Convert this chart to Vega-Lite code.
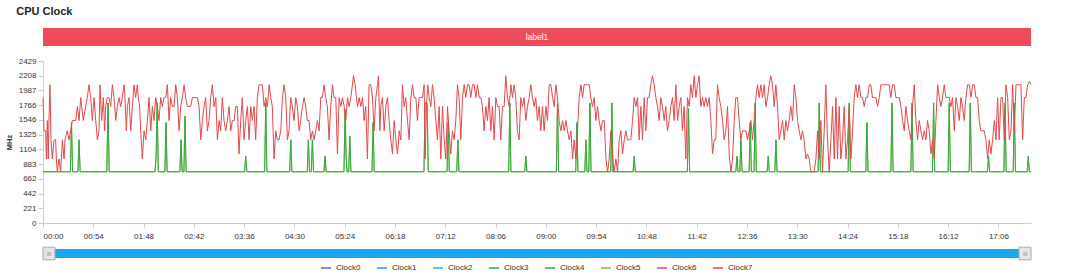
{
  "$schema": "https://vega.github.io/schema/vega-lite/v6.json",
  "background": "white",
  "padding": {"left": 5, "top": 6, "right": 5, "bottom": 2},
  "title": {"text": "CPU Clock", "anchor": "start", "fontSize": 11, "fontWeight": "bold", "font": "Liberation Sans", "color": "#222", "dx": 11, "offset": 11},
  "config": {
    "view": {"stroke": null},
    "font": "Liberation Sans",
    "axis": {"labelFont": "Liberation Sans", "labelFontSize": 8, "labelColor": "#333", "domainColor": "#c9cbd3", "tickColor": "#c9cbd3", "grid": false}
  },
  "resolve": {"scale": {"color": "shared"}, "legend": {"color": "shared"}},
  "datasets": {
    "red": [
      {"t":0,"v":1881},{"t":1.1,"v":1382},{"t":2.9,"v":1382},{"t":3.6,"v":960},{"t":4.7,"v":1536},{"t":5.7,"v":960},{"t":6.4,"v":1536},{"t":7.5,"v":2073},{"t":8.6,"v":1248},{"t":10,"v":960},{"t":11.8,"v":1248},{"t":13.6,"v":1248},{"t":14.3,"v":960},{"t":15.4,"v":768},{"t":17.2,"v":960},{"t":19,"v":768},{"t":20.8,"v":1248},{"t":22.6,"v":960},{"t":23.6,"v":1248},{"t":26.1,"v":1382},{"t":27.9,"v":1248},{"t":29.7,"v":1382},{"t":31.5,"v":1536},{"t":33.3,"v":1536},{"t":35.1,"v":1536},{"t":36.9,"v":1747},{"t":38.7,"v":1536},{"t":40.5,"v":1881},{"t":41.5,"v":1747},{"t":43.3,"v":1536},{"t":45.8,"v":1747},{"t":47.6,"v":1881},{"t":49.4,"v":2073},{"t":51.2,"v":1881},{"t":53,"v":1536},{"t":54.8,"v":1881},{"t":56.6,"v":1536},{"t":58.4,"v":1248},{"t":60.2,"v":1382},{"t":61.2,"v":2073},{"t":63,"v":1536},{"t":64.8,"v":1881},{"t":66.2,"v":1382},{"t":67.3,"v":1747},{"t":69.1,"v":1881},{"t":70.9,"v":1881},{"t":72.7,"v":1747},{"t":74.5,"v":2073},{"t":76.3,"v":1881},{"t":78.1,"v":1536},{"t":79.8,"v":1747},{"t":81.6,"v":1881},{"t":83.4,"v":1747},{"t":85.2,"v":1881},{"t":87,"v":2073},{"t":88.1,"v":1881},{"t":89.5,"v":1382},{"t":90.6,"v":1747},{"t":92.4,"v":1881},{"t":94.2,"v":1382},{"t":96,"v":1747},{"t":97.8,"v":2073},{"t":99.5,"v":1881},{"t":101.3,"v":2073},{"t":102.4,"v":1881},{"t":103.8,"v":1747},{"t":104.9,"v":1382},{"t":106.7,"v":960},{"t":108.5,"v":1382},{"t":110.3,"v":1248},{"t":112.1,"v":1536},{"t":113.9,"v":1881},{"t":115.7,"v":1382},{"t":117.4,"v":1747},{"t":119.2,"v":1536},{"t":121,"v":1881},{"t":122.8,"v":1747},{"t":124.6,"v":1536},{"t":126.4,"v":1881},{"t":128.2,"v":1747},{"t":130,"v":1881},{"t":131.8,"v":1881},{"t":133.6,"v":2073},{"t":135.3,"v":1536},{"t":137.1,"v":1881},{"t":138.9,"v":1747},{"t":140.7,"v":1747},{"t":142.5,"v":2073},{"t":144.3,"v":1881},{"t":146.1,"v":1382},{"t":147.9,"v":1747},{"t":149.7,"v":1881},{"t":151.5,"v":2073},{"t":153.2,"v":1881},{"t":155,"v":1747},{"t":156.8,"v":1747},{"t":158.6,"v":1747},{"t":160.4,"v":1881},{"t":162.2,"v":1881},{"t":164,"v":1881},{"t":165.8,"v":1881},{"t":167.6,"v":1747},{"t":169.4,"v":1248},{"t":171.2,"v":1536},{"t":172.9,"v":1747},{"t":174.7,"v":1881},{"t":176.5,"v":1382},{"t":178.3,"v":1536},{"t":180.1,"v":1881},{"t":181.9,"v":2073},{"t":183.7,"v":1747},{"t":185.5,"v":1881},{"t":187.3,"v":1248},{"t":189.1,"v":1536},{"t":190.8,"v":1382},{"t":192.6,"v":1881},{"t":194.4,"v":1536},{"t":196.2,"v":1382},{"t":198,"v":1536},{"t":199.8,"v":1747},{"t":201.6,"v":1382},{"t":203.4,"v":1536},{"t":205.2,"v":1536},{"t":206.9,"v":1747},{"t":208.7,"v":1747},{"t":210.5,"v":1036},{"t":212.3,"v":1536},{"t":214.1,"v":1881},{"t":215.9,"v":1248},{"t":217.7,"v":1536},{"t":219.5,"v":1747},{"t":221.3,"v":1248},{"t":223.1,"v":1747},{"t":224.9,"v":1536},{"t":226.6,"v":1747},{"t":228.4,"v":1248},{"t":230.2,"v":1881},{"t":232,"v":2073},{"t":233.8,"v":2073},{"t":235.6,"v":2073},{"t":237.4,"v":1747},{"t":239.2,"v":1881},{"t":241,"v":1747},{"t":242.8,"v":2073},{"t":244.6,"v":1881},{"t":246.3,"v":1747},{"t":248.1,"v":960},{"t":249.9,"v":1382},{"t":251.7,"v":1248},{"t":253.5,"v":1248},{"t":255.3,"v":1382},{"t":257.1,"v":1881},{"t":258.9,"v":2073},{"t":260.7,"v":1881},{"t":262.5,"v":1248},{"t":264.2,"v":1382},{"t":266,"v":1881},{"t":267.8,"v":1747},{"t":269.6,"v":1536},{"t":271.4,"v":1881},{"t":273.2,"v":1747},{"t":275,"v":1382},{"t":276.8,"v":1536},{"t":278.6,"v":1747},{"t":280.4,"v":1881},{"t":282.1,"v":1747},{"t":283.9,"v":1536},{"t":285.7,"v":1536},{"t":287.5,"v":1248},{"t":289.3,"v":1382},{"t":291.1,"v":1248},{"t":292.9,"v":1382},{"t":294.7,"v":1536},{"t":296.5,"v":1382},{"t":298.3,"v":1881},{"t":300.1,"v":1881},{"t":301.8,"v":2073},{"t":303.6,"v":1881},{"t":305.4,"v":1747},{"t":307.2,"v":1248},{"t":309,"v":1747},{"t":310.8,"v":2073},{"t":312.6,"v":1881},{"t":314.4,"v":1881},{"t":316.2,"v":1036},{"t":318,"v":1881},{"t":319.8,"v":1747},{"t":321.6,"v":1881},{"t":323.4,"v":1747},{"t":325.2,"v":1536},{"t":327,"v":1881},{"t":328.7,"v":1747},{"t":330.5,"v":1881},{"t":332.3,"v":2073},{"t":333.4,"v":2208},{"t":335.2,"v":2073},{"t":336.6,"v":1881},{"t":337.7,"v":1747},{"t":339.5,"v":1881},{"t":341.3,"v":1747},{"t":343.1,"v":1881},{"t":344.9,"v":1536},{"t":346.6,"v":1747},{"t":348.4,"v":960},{"t":350.2,"v":2073},{"t":352,"v":2073},{"t":353.8,"v":1881},{"t":355.6,"v":1382},{"t":357.4,"v":1881},{"t":359.2,"v":2073},{"t":360.3,"v":2208},{"t":361.7,"v":1382},{"t":362.8,"v":1747},{"t":364.6,"v":1881},{"t":366.4,"v":1382},{"t":368.1,"v":1747},{"t":369.9,"v":1881},{"t":371.7,"v":1536},{"t":373.5,"v":1248},{"t":375.3,"v":1036},{"t":377.1,"v":1536},{"t":378.9,"v":1248},{"t":380.7,"v":1036},{"t":382.5,"v":1382},{"t":384.3,"v":1248},{"t":386,"v":2073},{"t":387.8,"v":1747},{"t":389.6,"v":1881},{"t":391.4,"v":1536},{"t":393.2,"v":1248},{"t":395,"v":1881},{"t":396.8,"v":2073},{"t":398.6,"v":1881},{"t":400.4,"v":1881},{"t":402.1,"v":1536},{"t":403.9,"v":1881},{"t":405.7,"v":1881},{"t":407.5,"v":1881},{"t":409.3,"v":2073},{"t":410.4,"v":960},{"t":411.8,"v":1747},{"t":413.2,"v":2073},{"t":414.7,"v":1881},{"t":416.5,"v":1747},{"t":418.2,"v":2073},{"t":420,"v":1881},{"t":421.8,"v":1536},{"t":423.6,"v":1248},{"t":425.4,"v":1747},{"t":427.2,"v":960},{"t":429,"v":1747},{"t":430.8,"v":1248},{"t":432.6,"v":960},{"t":434.4,"v":1747},{"t":436.1,"v":1382},{"t":437.9,"v":1036},{"t":439.7,"v":1382},{"t":441.5,"v":1248},{"t":443.3,"v":1536},{"t":445.1,"v":2073},{"t":446.9,"v":1881},{"t":448.7,"v":1248},{"t":450.5,"v":1881},{"t":452.3,"v":2073},{"t":454,"v":1881},{"t":455.8,"v":2073},{"t":457.6,"v":2073},{"t":459.4,"v":1881},{"t":461.2,"v":2073},{"t":463,"v":2073},{"t":464.8,"v":1881},{"t":466.6,"v":2073},{"t":468.4,"v":1881},{"t":470.2,"v":1881},{"t":471.9,"v":1747},{"t":473.7,"v":1382},{"t":475.5,"v":1747},{"t":477.3,"v":1536},{"t":479.1,"v":1881},{"t":480.9,"v":1382},{"t":482.7,"v":1747},{"t":484.5,"v":1248},{"t":486.3,"v":1881},{"t":488.1,"v":1747},{"t":489.8,"v":1747},{"t":491.6,"v":1248},{"t":493.4,"v":1747},{"t":495.2,"v":1747},{"t":497,"v":2208},{"t":498.8,"v":1881},{"t":500.6,"v":1747},{"t":502.4,"v":2073},{"t":504.2,"v":1881},{"t":506,"v":2073},{"t":507.7,"v":1881},{"t":509.5,"v":1382},{"t":511.3,"v":1248},{"t":513.1,"v":1881},{"t":514.9,"v":1747},{"t":516.7,"v":1881},{"t":518.5,"v":1536},{"t":520.3,"v":1747},{"t":522.1,"v":1881},{"t":523.9,"v":2073},{"t":525.6,"v":1881},{"t":527.4,"v":1747},{"t":529.2,"v":1881},{"t":531,"v":1536},{"t":532.8,"v":1747},{"t":534.6,"v":1382},{"t":536.4,"v":1747},{"t":538.2,"v":1382},{"t":540,"v":1747},{"t":541.8,"v":1536},{"t":543.6,"v":2073},{"t":545.4,"v":2073},{"t":547.2,"v":1881},{"t":549,"v":1747},{"t":550.7,"v":2073},{"t":552.5,"v":1881},{"t":554.3,"v":1536},{"t":556.1,"v":1382},{"t":557.9,"v":1536},{"t":559.7,"v":1382},{"t":561.5,"v":1536},{"t":563.3,"v":1382},{"t":565.1,"v":1248},{"t":566.9,"v":1382},{"t":568.7,"v":960},{"t":570.4,"v":1248},{"t":572.2,"v":960},{"t":574,"v":1382},{"t":575.8,"v":1881},{"t":577.6,"v":2073},{"t":579.4,"v":1881},{"t":581.2,"v":2073},{"t":583,"v":2073},{"t":584.8,"v":2073},{"t":586.6,"v":2073},{"t":588.3,"v":1881},{"t":590.1,"v":1747},{"t":591.9,"v":1881},{"t":593.7,"v":1536},{"t":595.5,"v":1747},{"t":597.3,"v":1536},{"t":599.1,"v":1382},{"t":600.9,"v":1536},{"t":602.7,"v":1536},{"t":604.5,"v":960},{"t":606.3,"v":768},{"t":608,"v":960},{"t":609.8,"v":1382},{"t":611.6,"v":960},{"t":613.4,"v":768},{"t":615.2,"v":960},{"t":617,"v":768},{"t":618.8,"v":1248},{"t":620.6,"v":1382},{"t":622.4,"v":1036},{"t":624.2,"v":1248},{"t":625.9,"v":1382},{"t":627.7,"v":1248},{"t":629.5,"v":1248},{"t":631.3,"v":1248},{"t":633.1,"v":1536},{"t":634.9,"v":1881},{"t":636.7,"v":1747},{"t":638.5,"v":1881},{"t":640.2,"v":1248},{"t":642,"v":1747},{"t":643.8,"v":1248},{"t":645.6,"v":1881},{"t":647.4,"v":1382},{"t":649.2,"v":1881},{"t":650.9,"v":1881},{"t":652.7,"v":2073},{"t":654.5,"v":2208},{"t":656.3,"v":2073},{"t":658.1,"v":1881},{"t":659.9,"v":1747},{"t":661.7,"v":1536},{"t":663.5,"v":1881},{"t":665.3,"v":1747},{"t":667.1,"v":1536},{"t":668.8,"v":1747},{"t":670.6,"v":1382},{"t":672.4,"v":1536},{"t":674.2,"v":1747},{"t":676,"v":1881},{"t":677.8,"v":1536},{"t":679.6,"v":2073},{"t":681.4,"v":1536},{"t":683.2,"v":1747},{"t":685,"v":1881},{"t":686.7,"v":1382},{"t":688.5,"v":1747},{"t":690.3,"v":960},{"t":692.1,"v":1881},{"t":693.9,"v":1747},{"t":695.7,"v":2073},{"t":697.5,"v":1881},{"t":699.3,"v":2208},{"t":701.1,"v":1881},{"t":702.9,"v":2073},{"t":704.6,"v":2208},{"t":706.4,"v":1747},{"t":708.2,"v":1881},{"t":710,"v":1747},{"t":711.8,"v":1881},{"t":713.6,"v":1747},{"t":715.4,"v":1881},{"t":717.2,"v":1536},{"t":719,"v":1036},{"t":720.8,"v":1248},{"t":722.5,"v":1248},{"t":724.3,"v":2073},{"t":726.1,"v":1881},{"t":727.9,"v":1747},{"t":729.7,"v":1536},{"t":731.5,"v":1248},{"t":733.3,"v":1382},{"t":735.1,"v":1747},{"t":736.9,"v":1036},{"t":738.7,"v":768},{"t":740.5,"v":960},{"t":742.3,"v":1536},{"t":744,"v":1881},{"t":745.8,"v":1881},{"t":747.6,"v":1536},{"t":749.4,"v":1248},{"t":751.2,"v":1382},{"t":753,"v":1382},{"t":754.8,"v":1382},{"t":756.6,"v":1248},{"t":758.4,"v":1382},{"t":760.2,"v":1536},{"t":761.9,"v":1248},{"t":763.7,"v":1536},{"t":765.5,"v":1881},{"t":767.3,"v":2073},{"t":769.1,"v":1881},{"t":770.9,"v":2073},{"t":772.7,"v":1881},{"t":774.5,"v":2073},{"t":776.3,"v":1747},{"t":778.1,"v":1881},{"t":779.8,"v":2073},{"t":781.6,"v":2208},{"t":783.4,"v":2073},{"t":785.2,"v":1747},{"t":787,"v":2073},{"t":788.8,"v":1747},{"t":790.6,"v":1248},{"t":792.4,"v":1382},{"t":794.2,"v":1536},{"t":796,"v":1248},{"t":797.7,"v":1536},{"t":799.5,"v":1382},{"t":801.3,"v":1536},{"t":803.1,"v":1747},{"t":804.9,"v":1536},{"t":806.7,"v":2073},{"t":808.5,"v":1881},{"t":810.3,"v":1536},{"t":812.1,"v":1382},{"t":813.9,"v":1248},{"t":815.6,"v":1382},{"t":817.4,"v":1248},{"t":819.2,"v":960},{"t":821,"v":1036},{"t":822.8,"v":960},{"t":824.6,"v":768},{"t":826.4,"v":768},{"t":828.2,"v":768},{"t":830,"v":960},{"t":831.8,"v":1382},{"t":833.5,"v":960},{"t":835.3,"v":1536},{"t":837.1,"v":768},{"t":838.9,"v":1382},{"t":840.7,"v":2073},{"t":842.5,"v":1248},{"t":844.3,"v":768},{"t":846.1,"v":1248},{"t":847.9,"v":1747},{"t":849.7,"v":960},{"t":851.5,"v":1881},{"t":853.2,"v":960},{"t":855,"v":1747},{"t":856.8,"v":960},{"t":858.6,"v":1248},{"t":860.4,"v":1747},{"t":862.2,"v":960},{"t":864,"v":1248},{"t":865.8,"v":1747},{"t":867.6,"v":960},{"t":869.4,"v":1382},{"t":871.1,"v":1881},{"t":872.9,"v":2073},{"t":874.7,"v":1881},{"t":876.5,"v":2073},{"t":878.3,"v":1881},{"t":880.1,"v":1881},{"t":881.9,"v":1747},{"t":883.7,"v":1881},{"t":885.5,"v":1881},{"t":887.3,"v":2073},{"t":889,"v":2073},{"t":890.8,"v":1881},{"t":892.6,"v":1881},{"t":894.4,"v":1881},{"t":896.2,"v":1747},{"t":898,"v":1881},{"t":899.8,"v":2073},{"t":901.6,"v":2073},{"t":903.4,"v":2073},{"t":905.2,"v":2073},{"t":907,"v":2073},{"t":908.7,"v":2073},{"t":910.5,"v":1881},{"t":912.3,"v":2073},{"t":914.1,"v":2073},{"t":915.9,"v":1881},{"t":917.7,"v":1881},{"t":919.5,"v":1881},{"t":921.3,"v":1747},{"t":923.1,"v":1536},{"t":924.9,"v":1382},{"t":926.6,"v":1747},{"t":928.4,"v":1536},{"t":930.2,"v":1382},{"t":932,"v":1248},{"t":933.8,"v":1747},{"t":935.6,"v":2073},{"t":937.4,"v":1536},{"t":939.2,"v":1248},{"t":941,"v":1536},{"t":942.8,"v":1382},{"t":944.6,"v":1248},{"t":946.3,"v":1382},{"t":948.1,"v":1248},{"t":949.9,"v":1536},{"t":951.7,"v":1382},{"t":953.5,"v":1036},{"t":955.3,"v":1248},{"t":957.1,"v":960},{"t":958.9,"v":1536},{"t":960.7,"v":2073},{"t":962.5,"v":1881},{"t":964.3,"v":1747},{"t":966,"v":1881},{"t":967.8,"v":2073},{"t":969.6,"v":1881},{"t":971.4,"v":1881},{"t":973.2,"v":1881},{"t":975,"v":1747},{"t":976.8,"v":1881},{"t":978.6,"v":1382},{"t":980.4,"v":1881},{"t":982.2,"v":1747},{"t":984,"v":1536},{"t":985.7,"v":1881},{"t":987.5,"v":1747},{"t":989.3,"v":1536},{"t":991.1,"v":1881},{"t":992.9,"v":2073},{"t":994.7,"v":2073},{"t":996.5,"v":1881},{"t":998.3,"v":2073},{"t":1000.1,"v":2073},{"t":1001.9,"v":1881},{"t":1003.7,"v":1881},{"t":1005.4,"v":1536},{"t":1007.2,"v":1382},{"t":1009,"v":1382},{"t":1010.8,"v":1382},{"t":1012.6,"v":1248},{"t":1014.4,"v":960},{"t":1016.2,"v":1248},{"t":1018,"v":1036},{"t":1019.8,"v":1248},{"t":1021.6,"v":1536},{"t":1023.4,"v":1248},{"t":1025.1,"v":1881},{"t":1026.9,"v":1248},{"t":1028.7,"v":1881},{"t":1030.5,"v":1881},{"t":1032.3,"v":1248},{"t":1034.1,"v":2073},{"t":1035.9,"v":1881},{"t":1037.7,"v":1248},{"t":1039.5,"v":1382},{"t":1041.3,"v":2073},{"t":1043.1,"v":1382},{"t":1044.9,"v":2073},{"t":1046.7,"v":2073},{"t":1048.4,"v":2073},{"t":1050.2,"v":2073},{"t":1052,"v":1248},{"t":1053.8,"v":1881},{"t":1055.6,"v":1881},{"t":1057.4,"v":2073},{"t":1059.2,"v":2120},{"t":1061,"v":2073}
    ],
    "green": [
      {"t":0,"v":768},{"t":29.4,"v":768},{"t":30.6,"v":1505},{"t":31.8,"v":768},{"t":37.5,"v":768},{"t":38.7,"v":1248},{"t":39.9,"v":768},{"t":68.5,"v":768},{"t":69.8,"v":1800},{"t":71.1,"v":768},{"t":120.3,"v":768},{"t":121.5,"v":1000},{"t":122.6,"v":1800},{"t":123.8,"v":768},{"t":130.9,"v":768},{"t":132.1,"v":1505},{"t":133.3,"v":768},{"t":147,"v":768},{"t":148.2,"v":1248},{"t":149.4,"v":768},{"t":151.3,"v":768},{"t":152.5,"v":1600},{"t":153.7,"v":768},{"t":216.5,"v":768},{"t":217.7,"v":1000},{"t":218.9,"v":768},{"t":238,"v":768},{"t":239.2,"v":1800},{"t":240.4,"v":768},{"t":264.9,"v":768},{"t":266.1,"v":1248},{"t":267.3,"v":768},{"t":283.8,"v":768},{"t":285,"v":1248},{"t":286.2,"v":768},{"t":288.1,"v":768},{"t":289.3,"v":1248},{"t":290.5,"v":768},{"t":301.7,"v":768},{"t":302.9,"v":1000},{"t":304.1,"v":768},{"t":323.2,"v":768},{"t":324.4,"v":1700},{"t":325.5,"v":1000},{"t":326.5,"v":768},{"t":328.3,"v":768},{"t":329.5,"v":1305},{"t":330.7,"v":768},{"t":353.3,"v":768},{"t":354.5,"v":1505},{"t":355.7,"v":768},{"t":409.1,"v":768},{"t":410.3,"v":1800},{"t":412.5,"v":1800},{"t":413.7,"v":768},{"t":433.9,"v":768},{"t":435.1,"v":1505},{"t":436.3,"v":768},{"t":444.3,"v":768},{"t":445.5,"v":1248},{"t":446.7,"v":768},{"t":500.1,"v":768},{"t":501.3,"v":1800},{"t":502.5,"v":768},{"t":517.3,"v":768},{"t":518.5,"v":1000},{"t":519.7,"v":768},{"t":551.3,"v":768},{"t":552.5,"v":1800},{"t":553.7,"v":768},{"t":572.1,"v":768},{"t":573.3,"v":1505},{"t":574.5,"v":768},{"t":581.8,"v":768},{"t":583,"v":1248},{"t":584.2,"v":768},{"t":586.1,"v":768},{"t":587.3,"v":1800},{"t":588.5,"v":768},{"t":609.7,"v":768},{"t":610.9,"v":1800},{"t":612.1,"v":768},{"t":633.7,"v":768},{"t":634.9,"v":1000},{"t":636.1,"v":768},{"t":692,"v":768},{"t":693.2,"v":1720},{"t":694.4,"v":768},{"t":744,"v":768},{"t":745.2,"v":1000},{"t":746.4,"v":768},{"t":748.3,"v":768},{"t":749.5,"v":1248},{"t":750.7,"v":768},{"t":758.3,"v":768},{"t":759.5,"v":1505},{"t":760.7,"v":768},{"t":763.6,"v":768},{"t":764.8,"v":1800},{"t":766,"v":768},{"t":777.6,"v":768},{"t":778.8,"v":1000},{"t":780,"v":768},{"t":785.9,"v":768},{"t":787.1,"v":1248},{"t":788.3,"v":768},{"t":832.4,"v":768},{"t":833.6,"v":1800},{"t":834.8,"v":768},{"t":864.6,"v":768},{"t":865.8,"v":1800},{"t":867,"v":768},{"t":883.6,"v":768},{"t":884.8,"v":1505},{"t":886,"v":768},{"t":910.5,"v":768},{"t":911.7,"v":1800},{"t":912.9,"v":768},{"t":932,"v":768},{"t":933.2,"v":1800},{"t":934.4,"v":768},{"t":955.2,"v":768},{"t":956.4,"v":1800},{"t":957.6,"v":768},{"t":972,"v":768},{"t":973.2,"v":1800},{"t":974.4,"v":768},{"t":994.6,"v":768},{"t":995.8,"v":1800},{"t":997,"v":768},{"t":1014.2,"v":768},{"t":1015.4,"v":1000},{"t":1016.6,"v":768},{"t":1031.9,"v":768},{"t":1033.1,"v":1800},{"t":1034.3,"v":768},{"t":1041.9,"v":768},{"t":1043.1,"v":1800},{"t":1044.3,"v":768},{"t":1056.9,"v":768},{"t":1058.1,"v":1000},{"t":1059.3,"v":768},{"t":1061,"v":768}
    ]
  },
  "spacing": 11,
  "vconcat": [
    {
      "width": 988,
      "height": 18,
      "data": {"values": [{"label": "label1"}]},
      "layer": [
        {"mark": {"type": "rect", "color": "#ef4c5a"},
         "encoding": {"x": {"field": "label", "type": "nominal", "axis": null, "scale": {"paddingInner": 0, "paddingOuter": 0}}}},
        {"mark": {"type": "text", "color": "white", "fontSize": 8.5, "font": "Liberation Sans"},
         "encoding": {"x": {"field": "label", "type": "nominal", "axis": null}, "text": {"field": "label"}}}
      ]
    },
    {
      "spacing": 5,
      "resolve": {"scale": {"color": "shared"}, "legend": {"color": "shared"}},
      "vconcat": [
        {
          "width": 988,
          "height": 162,
          "encoding": {
            "x": {"field": "t", "type": "quantitative", "scale": {"domain": [0, 1061], "nice": false, "zero": false},
              "axis": {"title": null, "values": [0,54,108,162,216,270,324,378,432,486,540,594,648,702,756,810,864,918,972,1026], "labelExpr": "utcFormat(datum.value*1000, '%M:%S')", "tickSize": 4, "labelPadding": 5}},
            "y": {"field": "v", "type": "quantitative", "scale": {"domain": [0, 2429], "nice": false},
              "axis": {"title": "MHz", "format": "d", "values": [0,221,442,662,883,1104,1325,1546,1766,1987,2208,2429], "tickSize": 5, "labelPadding": 2, "titleFontSize": 7.5, "titleFontWeight": "bold", "titleColor": "#333", "titlePadding": 5}}
          },
          "layer": [
            {"data": {"name": "green"}, "mark": {"type": "line", "strokeWidth": 1},
             "encoding": {"color": {"datum": "Clock5", "type": "nominal",
               "scale": {"domain": ["Clock0","Clock1","Clock2","Clock3","Clock4","Clock5","Clock6","Clock7"], "range": ["#5470c6","#3e8ef7","#17b8e6","#2aa38a","#36a84a","#7ec22b","#e040c0","#e4484a"]},
               "legend": {"title": null, "orient": "none", "legendX": 277, "legendY": 234, "direction": "horizontal", "symbolType": "stroke", "symbolStrokeWidth": 1.5, "symbolSize": 100, "labelFontSize": 8, "labelColor": "#333", "labelFont": "Liberation Sans", "columnPadding": 13}}}},
            {"data": {"name": "green"}, "mark": {"type": "line", "strokeWidth": 1},
             "encoding": {"color": {"datum": "Clock4", "type": "nominal"}}},
            {"data": {"name": "red"}, "mark": {"type": "line", "strokeWidth": 1},
             "encoding": {"color": {"datum": "Clock7", "type": "nominal"}}}
          ]
        },
        {
          "width": 988,
          "height": 9,
          "layer": [
            {"data": {"values": [{"start": 0, "end": 1061}]},
             "mark": {"type": "rect", "color": "#1ba6ee"},
             "encoding": {"x": {"field": "start", "type": "quantitative", "scale": {"domain": [0, 1061], "nice": false, "zero": false}, "axis": null}, "x2": {"field": "end"}}},
            {"data": {"values": [{"t": 0, "side": "start"}]},
             "mark": {"type": "point", "shape": "M-1,-1.05H1V1.05H-1Z", "size": 144, "filled": true, "fill": "#e6e6e6", "stroke": "#a8a8a8", "strokeWidth": 1, "opacity": 1, "xOffset": 6, "clip": false},
             "encoding": {"x": {"field": "t", "type": "quantitative", "axis": null}}},
            {"data": {"values": [{"t": 1061, "side": "end"}]},
             "mark": {"type": "point", "shape": "M-1,-1.05H1V1.05H-1Z", "size": 144, "filled": true, "fill": "#e6e6e6", "stroke": "#a8a8a8", "strokeWidth": 1, "opacity": 1, "xOffset": -6, "clip": false},
             "encoding": {"x": {"field": "t", "type": "quantitative", "axis": null}}},
            {"data": {"values": [{"t": 0, "side": "start"}]},
             "mark": {"type": "text", "text": "III", "fontSize": 5, "color": "#777", "xOffset": 6},
             "encoding": {"x": {"field": "t", "type": "quantitative", "axis": null}}},
            {"data": {"values": [{"t": 1061, "side": "end"}]},
             "mark": {"type": "text", "text": "III", "fontSize": 5, "color": "#777", "xOffset": -6},
             "encoding": {"x": {"field": "t", "type": "quantitative", "axis": null}}}
          ]
        }
      ]
    }
  ]
}
